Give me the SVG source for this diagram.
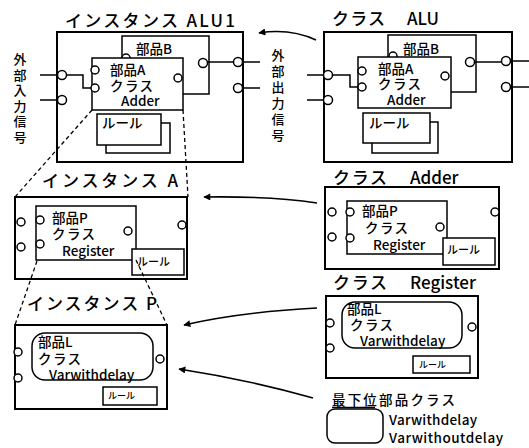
<svg xmlns="http://www.w3.org/2000/svg" width="529" height="448" viewBox="0 0 529 448">
<defs>
<style>
.t{font-family:"Noto Sans CJK JP","Liberation Sans",sans-serif;fill:#000}
.ti{font-size:17px;font-weight:500}
.in{font-size:13.5px;font-weight:500}
.sm{font-size:11px;font-weight:500}
.xs{font-size:9px;font-weight:500}
.vt{font-size:13px;font-weight:500;writing-mode:vertical-rl;letter-spacing:2.5px}
.ob{fill:#fff;stroke:#000;stroke-width:2}
.ib{fill:#fff;stroke:#000;stroke-width:1.5}
.c{fill:#fff;stroke:#000;stroke-width:1.5}
.ln{fill:none;stroke:#000;stroke-width:1.5}
.dash{fill:none;stroke:#000;stroke-width:1.3;stroke-dasharray:4 3}
.arr{fill:none;stroke:#000;stroke-width:1.6;marker-end:url(#ah)}
</style>
<marker id="ah" viewBox="0 0 10 10" refX="9" refY="5" markerWidth="9" markerHeight="7" orient="auto" markerUnits="userSpaceOnUse">
<path d="M0,0 L10,5 L0,10 Z" fill="#000"/>
</marker>
</defs>
<rect width="529" height="448" fill="#fff"/>

<g id="instALU1">
<text class="t ti" x="65" y="27" textLength="170">インスタンス ALU1</text>
<rect class="ob" x="57" y="32" width="186" height="130"/>
<rect class="ib" x="122" y="36" width="87" height="58"/>
<circle class="c" cx="126" cy="58" r="4"/>
<text class="t in" x="136" y="54">部品B</text>
<rect class="ib" x="92" y="58" width="91" height="52"/>
<text class="t in" x="110" y="75">部品A</text>
<text class="t in" x="110" y="91" textLength="43">クラス</text>
<text class="t in" x="121" y="106">Adder</text>
<circle class="c" cx="95" cy="70" r="4"/>
<circle class="c" cx="95" cy="88" r="4"/>
<circle class="c" cx="178" cy="78" r="4"/>
<circle class="c" cx="203" cy="63" r="4.5"/>
<path class="ln" d="M207.5,62 H233.5"/>
<circle class="c" cx="238" cy="62" r="4.5"/>
<circle class="c" cx="238" cy="88" r="4.5"/>
<path class="ln" d="M242.5,62 H260 M242.5,88 H260"/>
<circle class="c" cx="62" cy="75" r="4.5"/>
<circle class="c" cx="62" cy="100" r="4.5"/>
<path class="ln" d="M40,75 H57.5 M40,100 H57.5 M66.5,75 H83 V88 H91"/>
<rect class="ib" x="106" y="123" width="64" height="30"/>
<rect class="ib" x="97" y="114" width="64" height="31"/>
<text class="t in" x="102" y="128">ルール</text>
<text class="t vt" x="20" y="53">外部入力信号</text>
</g>

<g id="classALU">
<text class="t ti" x="332" y="25" textLength="53">クラス</text>
<text class="t ti" x="407" y="25">ALU</text>
<rect class="ob" x="324" y="32" width="188" height="130"/>
<rect class="ib" x="388" y="35" width="88" height="57"/>
<circle class="c" cx="393" cy="56" r="4"/>
<text class="t in" x="403" y="54">部品B</text>
<rect class="ib" x="358" y="57" width="93" height="51"/>
<text class="t in" x="378" y="74">部品A</text>
<text class="t in" x="378" y="89" textLength="43">クラス</text>
<text class="t in" x="387" y="105">Adder</text>
<circle class="c" cx="362" cy="71" r="4"/>
<circle class="c" cx="362" cy="87" r="4"/>
<circle class="c" cx="445" cy="76" r="4"/>
<circle class="c" cx="470" cy="62" r="4.5"/>
<path class="ln" d="M474.5,62 H501.5"/>
<circle class="c" cx="506" cy="61" r="4.5"/>
<circle class="c" cx="506" cy="87" r="4.5"/>
<path class="ln" d="M510.5,61 H529 M510.5,87 H529"/>
<circle class="c" cx="328" cy="75" r="4.5"/>
<circle class="c" cx="328" cy="100" r="4.5"/>
<path class="ln" d="M307,75 H323.5 M307,100 H323.5 M332.5,75 H350 V87 H358"/>
<rect class="ib" x="372" y="122" width="66" height="31"/>
<rect class="ib" x="363" y="113" width="67" height="30"/>
<text class="t in" x="369" y="128">ルール</text>
<text class="t vt" x="278" y="49" style="letter-spacing:3px">外部出力信号</text>
</g>

<g id="instA">
<text class="t ti" x="42" y="187" textLength="136">インスタンス A</text>
<rect class="ob" x="15" y="197" width="172" height="82"/>
<rect class="ib" x="36" y="206" width="100" height="54"/>
<text class="t in" x="52" y="223">部品P</text>
<text class="t in" x="52" y="239" textLength="43">クラス</text>
<text class="t in" x="62" y="256">Register</text>
<circle class="c" cx="40" cy="220" r="4"/>
<circle class="c" cx="40" cy="244" r="4"/>
<circle class="c" cx="128" cy="231" r="4"/>
<circle class="c" cx="21" cy="222" r="4"/>
<circle class="c" cx="21" cy="247" r="4"/>
<circle class="c" cx="182" cy="225" r="4"/>
<rect class="ib" x="132" y="249" width="52" height="26"/>
<text class="t sm" x="137" y="266">ルール</text>
</g>

<g id="classAdder">
<text class="t ti" x="333" y="184" textLength="54">クラス</text>
<text class="t ti" x="410" y="184">Adder</text>
<rect class="ob" x="325" y="187" width="174" height="82"/>
<rect class="ib" x="347" y="201" width="100" height="53"/>
<text class="t in" x="362" y="216">部品P</text>
<text class="t in" x="365" y="233" textLength="43">クラス</text>
<text class="t in" x="373" y="250">Register</text>
<circle class="c" cx="332" cy="212" r="4"/>
<circle class="c" cx="332" cy="237" r="4"/>
<circle class="c" cx="350" cy="212" r="4"/>
<circle class="c" cx="350" cy="238" r="4"/>
<circle class="c" cx="440" cy="227" r="4"/>
<circle class="c" cx="495" cy="212" r="4"/>
<rect class="ib" x="443" y="238" width="52" height="27"/>
<text class="t sm" x="447" y="254">ルール</text>
</g>

<g id="instP">
<text class="t ti" x="27" y="310" textLength="130">インスタンス P</text>
<rect class="ob" x="15" y="325" width="152" height="84"/>
<rect class="ib" x="32" y="333" width="121" height="47" rx="13"/>
<text class="t in" x="38" y="347">部品L</text>
<text class="t in" x="38" y="364" textLength="43">クラス</text>
<text class="t in" x="49" y="380">Varwithdelay</text>
<circle class="c" cx="18" cy="352" r="4"/>
<circle class="c" cx="18" cy="378" r="4"/>
<circle class="c" cx="160" cy="359" r="4"/>
<rect class="ib" x="103" y="387" width="54" height="18"/>
<text class="t xs" x="108" y="399">ルール</text>
</g>

<g id="classRegister">
<text class="t ti" x="333" y="289" textLength="54">クラス</text>
<text class="t ti" x="410" y="289">Register</text>
<rect class="ob" x="326" y="296" width="152" height="82"/>
<rect class="ib" x="342" y="302" width="120" height="46" rx="13"/>
<text class="t in" x="347" y="314">部品L</text>
<text class="t in" x="350" y="330" textLength="43">クラス</text>
<text class="t in" x="360" y="346">Varwithdelay</text>
<circle class="c" cx="330" cy="323" r="4"/>
<circle class="c" cx="330" cy="348" r="4"/>
<circle class="c" cx="472" cy="327" r="4"/>
<rect class="ib" x="413" y="356" width="57" height="17"/>
<text class="t xs" x="419" y="368">ルール</text>
</g>

<g id="legend">
<text class="t in" x="332" y="405" textLength="123">最下位部品クラス</text>
<path class="ln" d="M332,407.5 H375" stroke-width="1.2"/>
<rect class="ib" x="327" y="409" width="56" height="34" rx="8"/>
<text class="t in" x="389" y="425" textLength="88">Varwithdelay</text>
<text class="t in" x="389" y="443" textLength="114">Varwithoutdelay</text>
</g>

<g id="connectors">
<path class="arr" d="M316,40 Q290,28 259,33"/>
<path class="arr" d="M317,203 Q270,196 204,197"/>
<path class="arr" d="M317,308 Q240,312 184,325"/>
<path class="arr" d="M313,398 Q250,380 179,369"/>
<path class="dash" d="M92,110 L15,197"/>
<path class="dash" d="M183,110 L188,197"/>
<path class="dash" d="M37,261 L15,325"/>
<path class="dash" d="M136,260 L167,325"/>
</g>
</svg>
